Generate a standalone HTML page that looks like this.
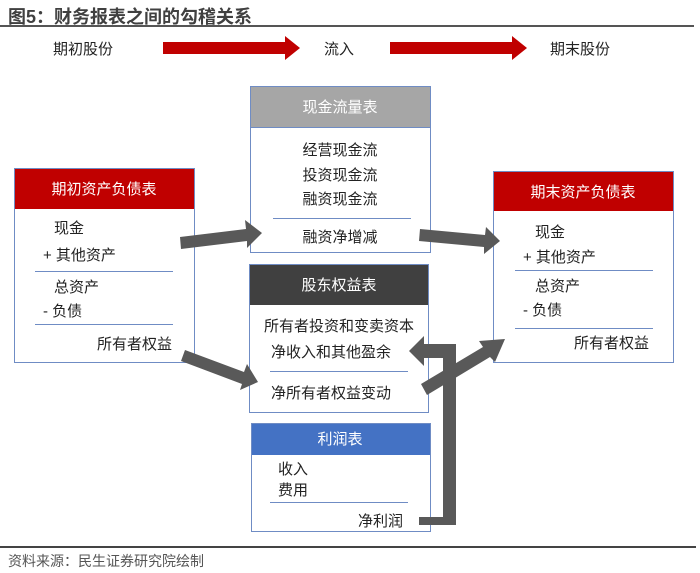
<!DOCTYPE html>
<html><head><meta charset="utf-8"><style>
html,body{margin:0;padding:0;background:#fff;width:700px;height:573px;overflow:hidden}
text{font-family:"Liberation Sans","Noto Sans CJK SC",sans-serif;}
</style></head><body>
<svg width="700" height="573" viewBox="0 0 700 573" xmlns="http://www.w3.org/2000/svg">
<text x="8" y="23" font-size="18" font-weight="bold" fill="#404040">图5：财务报表之间的勾稽关系</text>
<rect x="0" y="25" width="694" height="2" fill="#555"/>
<g font-size="15" fill="#222" text-anchor="middle">
<text x="83" y="54">期初股份</text><text x="339" y="54">流入</text><text x="580" y="54">期末股份</text>
</g>
<polygon points="163,42 285,42 285,36 300,48 285,60 285,54 163,54" fill="#c00000"/>
<polygon points="390,42 512,42 512,36 527,48 512,60 512,54 390,54" fill="#c00000"/>

<rect x="250.5" y="86.5" width="180" height="166" fill="#fff" stroke="#6f8cc4"/>
<rect x="251" y="87" width="179" height="40" fill="#a6a6a6"/>
<line x1="250" y1="127.5" x2="431" y2="127.5" stroke="#6f8cc4"/>
<g font-size="15" fill="#222" text-anchor="middle">
<text x="340" y="112" fill="#fff">现金流量表</text>
<text x="340" y="155">经营现金流</text><text x="340" y="180">投资现金流</text><text x="340" y="204">融资现金流</text>
<text x="340" y="242">融资净增减</text></g>
<line x1="273" y1="218.5" x2="411" y2="218.5" stroke="#6f8cc4"/>

<rect x="14.5" y="168.5" width="180" height="194" fill="#fff" stroke="#6f8cc4"/>
<rect x="15" y="169" width="179" height="40" fill="#c00000"/>
<g font-size="15" fill="#222">
<text x="104" y="194" fill="#fff" text-anchor="middle">期初资产负债表</text>
<text x="54" y="233">现金</text><text x="43" y="260">+ 其他资产</text>
<text x="54" y="292">总资产</text><text x="43" y="316">-  负债</text>
<text x="172" y="349" text-anchor="end">所有者权益</text></g>
<line x1="35" y1="271.5" x2="173" y2="271.5" stroke="#6f8cc4"/>
<line x1="35" y1="324.5" x2="173" y2="324.5" stroke="#6f8cc4"/>

<rect x="493.5" y="171.5" width="180" height="191" fill="#fff" stroke="#6f8cc4"/>
<rect x="494" y="172" width="179" height="39" fill="#c00000"/>
<g font-size="15" fill="#222">
<text x="583" y="197" fill="#fff" text-anchor="middle">期末资产负债表</text>
<text x="535" y="237">现金</text><text x="523" y="262">+ 其他资产</text>
<text x="535" y="291">总资产</text><text x="523" y="315">-  负债</text>
<text x="649" y="348" text-anchor="end">所有者权益</text></g>
<line x1="515" y1="270.5" x2="653" y2="270.5" stroke="#6f8cc4"/>
<line x1="515" y1="328.5" x2="653" y2="328.5" stroke="#6f8cc4"/>

<rect x="249.5" y="264.5" width="179" height="148" fill="#fff" stroke="#6f8cc4"/>
<rect x="250" y="265" width="178" height="40" fill="#404040"/>
<g font-size="15" fill="#222" text-anchor="middle">
<text x="339" y="290" fill="#fff">股东权益表</text>
<text x="339" y="331">所有者投资和变卖资本</text><text x="331" y="357">净收入和其他盈余</text>
<text x="331" y="398">净所有者权益变动</text></g>
<line x1="270" y1="371.5" x2="408" y2="371.5" stroke="#6f8cc4"/>

<rect x="251.5" y="423.5" width="179" height="108" fill="#fff" stroke="#6f8cc4"/>
<rect x="252" y="424" width="178" height="31" fill="#4472c4"/>
<g font-size="15" fill="#222">
<text x="340" y="444" fill="#fff" text-anchor="middle">利润表</text>
<text x="278" y="474">收入</text><text x="278" y="495">费用</text>
<text x="403" y="526" text-anchor="end">净利润</text></g>
<line x1="270" y1="502.5" x2="408" y2="502.5" stroke="#6f8cc4"/>

<g fill="#595959">
<polygon points="180,237 246,229 245,220 262,233 247,248 247,241 181,249"/>
<polygon points="185,350 244,372 247,364 258,382 240,390 242,384 181,361"/>
<polygon points="420,229 485,235 486,227 500,241 484,254 484,247 419,241"/>
<polygon points="421,384 483,347 479,341 505,339 495,362 490,357 427,395"/>
<polygon points="419,517 443,517 443,358 424,358 424,366 409,351 424,336 424,344 456,344 456,525 419,525"/>
</g>

<rect x="0" y="546" width="696" height="2" fill="#444"/>
<text x="8" y="566" font-size="14" fill="#555">资料来源：民生证券研究院绘制</text>
</svg>
</body></html>
